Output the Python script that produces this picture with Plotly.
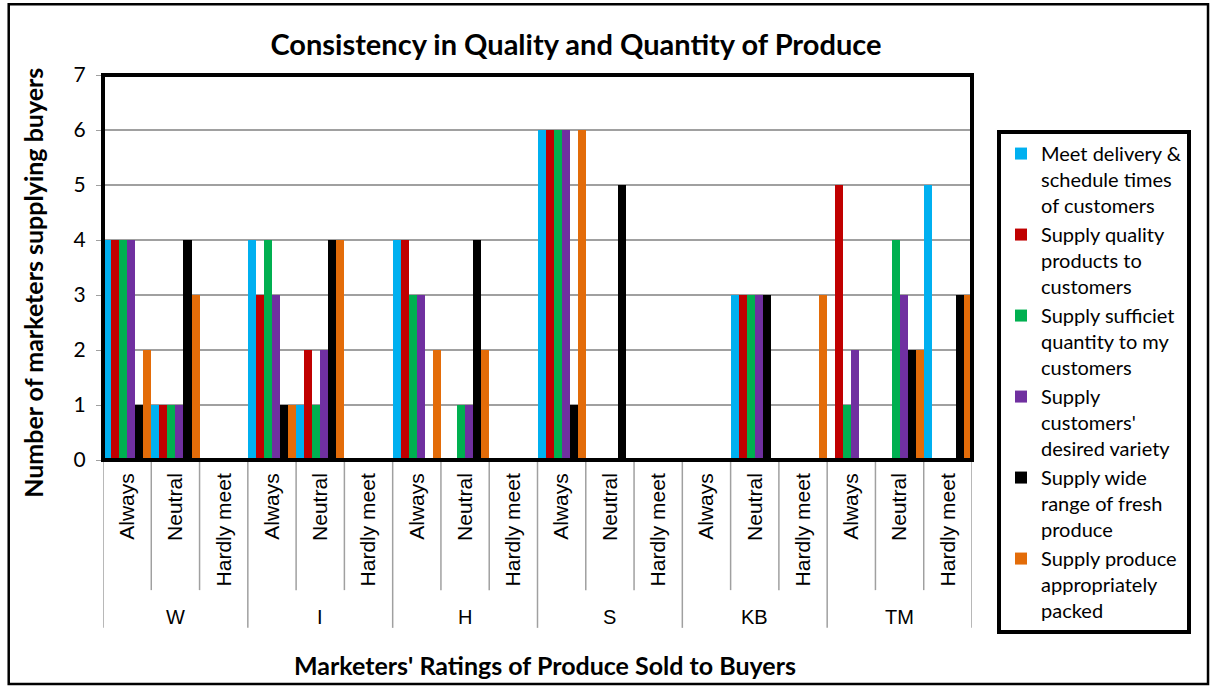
import plotly.graph_objects as go

groups = ["W", "I", "H", "S", "KB", "TM"]
ratings = ["Always", "Neutral", "Hardly meet"]

series_names = [
    "Meet delivery &<br>schedule times<br>of customers",
    "Supply quality<br>products to<br>customers",
    "Supply sufficiet<br>quantity to my<br>customers",
    "Supply<br>customers'<br>desired variety",
    "Supply wide<br>range of fresh<br>produce",
    "Supply produce<br>appropriately<br>packed",
]
colors = ["#00B0F0", "#C00000", "#00B050", "#7030A0", "#000000", "#E36C09"]

# values per category: W-Always, W-Neutral, W-Hardly, I-..., H-..., S-..., KB-..., TM-...
meet_delivery = [4, 1, 0, 4, 1, 0, 4, 0, 0, 6, 0, 0, 0, 3, 0, 0, 0, 5]
quality = [4, 1, 0, 3, 2, 0, 4, 0, 0, 6, 0, 0, 0, 3, 0, 5, 0, 0]
sufficient = [4, 1, 0, 4, 1, 0, 3, 1, 0, 6, 0, 0, 0, 3, 0, 1, 4, 0]
variety = [4, 1, 0, 3, 2, 0, 3, 1, 0, 6, 0, 0, 0, 3, 0, 2, 3, 0]
wide_range = [1, 4, 0, 1, 4, 0, 0, 4, 0, 1, 5, 0, 0, 3, 0, 0, 2, 3]
packed = [2, 3, 0, 1, 4, 0, 2, 2, 0, 6, 0, 0, 0, 0, 3, 0, 2, 3]
all_series = [meet_delivery, quality, sufficient, variety, wide_range, packed]

n_cat = len(groups) * len(ratings)
xs = list(range(n_cat))
sub_labels = [r for g in groups for r in ratings]

fig = go.Figure()
for name, vals, col in zip(series_names, all_series, colors):
    fig.add_trace(go.Bar(x=xs, y=vals, name=name, marker=dict(color=col, line=dict(width=0))))

GRID = "#A0A0A0"
shapes = []
# separators between sub-categories and groups
for b in range(n_cat + 1):
    pos = b - 0.5
    is_group = (b % len(ratings) == 0)
    shapes.append(dict(type="line", xref="x", yref="paper", x0=pos, x1=pos,
                       y0=0, y1=-0.436 if is_group else -0.338,
                       line=dict(color=GRID, width=1.5), layer="below"))
# plot area border
shapes.append(dict(type="rect", xref="paper", yref="paper", x0=0, x1=1, y0=0, y1=1,
                   line=dict(color="black", width=4)))
# outer chart border
shapes.append(dict(type="rect", xref="paper", yref="paper", x0=-0.1085, x1=1.2716,
                   y0=-0.582, y1=1.184, line=dict(color="black", width=2.5)))

annotations = []
for gi, g in enumerate(groups):
    annotations.append(dict(x=gi * len(ratings) + (len(ratings) - 1) / 2, xref="x",
                            y=-0.408, yref="paper", yanchor="middle", text=g, showarrow=False,
                            font=dict(family="Liberation Sans", size=20, color="black")))
annotations.append(dict(x=-0.0806, xref="paper", y=0.46, yref="paper", textangle=-90,
                        xanchor="center", yanchor="middle",
                        text="<b>Number of marketers supplying buyers</b>", showarrow=False,
                        font=dict(family="Lato", size=25, color="black")))
annotations.append(dict(x=0.509, xref="paper", y=-0.532, yref="paper",
                        xanchor="center", yanchor="middle",
                        text="<b>Marketers' Ratings of Produce Sold to Buyers</b>", showarrow=False,
                        font=dict(family="Lato", size=25, color="black")))

fig.update_layout(
    width=1211, height=686,
    margin=dict(l=103, r=239, t=75, b=226, autoexpand=False),
    paper_bgcolor="white", plot_bgcolor="white",
    barmode="group", bargap=0, bargroupgap=0,
    title=dict(text="<b>Consistency in Quality and Quantity of Produce</b>",
               x=0.4756, xanchor="center", y=0.934, yanchor="middle",
               font=dict(family="Lato", size=29, color="black")),
    xaxis=dict(range=[-0.5, n_cat - 0.5], tickvals=xs, ticktext=sub_labels, tickangle=-90,
               ticks="", showgrid=False, zeroline=False, ticklabelstandoff=8,
               tickfont=dict(family="Liberation Sans", size=21, color="black")),
    yaxis=dict(range=[0, 7], dtick=1, tick0=0, showgrid=True, gridcolor=GRID, gridwidth=1.5,
               ticks="outside", ticklen=6, tickcolor=GRID, zeroline=False,
               tickfont=dict(family="Lato", size=21, color="black"), ticklabelstandoff=6),
    legend=dict(x=1.0288, xanchor="left", y=0.857, yanchor="top", valign="top",
                bordercolor="black", borderwidth=4, bgcolor="white", maxheight=600,
                font=dict(family="Lato", size=20, color="black"), tracegroupgap=0),
    shapes=shapes, annotations=annotations,
)

fig.write_html("out.html", config={"displayModeBar": False},
               post_script="document.body.style.margin='0';document.body.style.overflow='hidden';")
